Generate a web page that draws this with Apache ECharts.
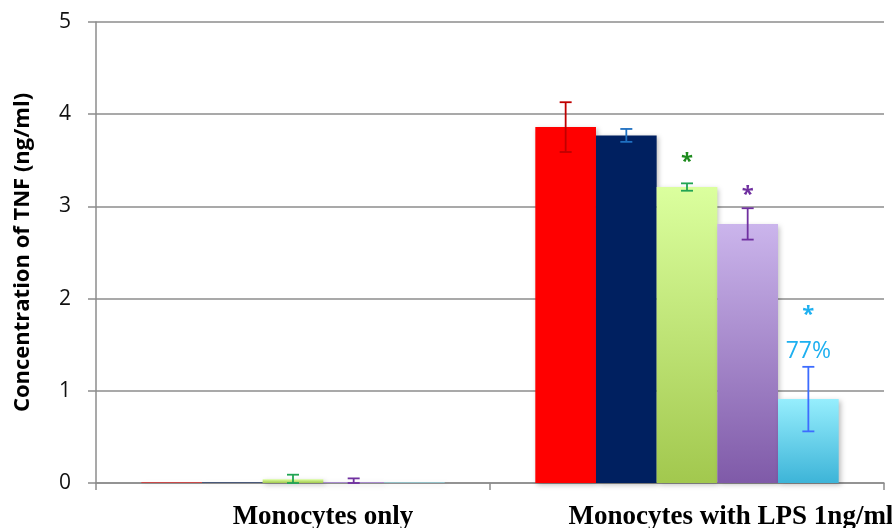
<!DOCTYPE html>
<html><head><meta charset="utf-8">
<script src="https://cdn.jsdelivr.net/npm/echarts@6/dist/echarts.min.js"></script>
<style>html,body{margin:0;padding:0;background:#fff}#c{width:892px;height:528px}</style>
</head><body><div id="c"></div>
<script>
const categories = ['Monocytes only', 'Monocytes with LPS 1ng/ml'];
const yTicks = [0, 1, 2, 3, 4, 5];
const seriesNames = ['A', 'B', 'C', 'D', 'E'];
const valuesA = [0.005, 3.86];
const valuesB = [0.005, 3.77];
const valuesC = [0.04, 3.21];
const valuesD = [0.01, 2.81];
const valuesE = [0.005, 0.91];
const errA = [0, 0.27];
const errB = [0, 0.07];
const errC = [0.05, 0.04];
const errD = [0.04, 0.17];
const errE = [0, 0.35];
// annotations: [category index, series index, value, text]
const annotations = [
  [1, 2, 3.48, '*'],
  [1, 3, 3.13, '*'],
  [1, 4, 1.82, '*'],
  [1, 4, 1.43, '77%']
];

const allValues = [valuesA, valuesB, valuesC, valuesD, valuesE];
const allErr = [errA, errB, errC, errD, errE];
const fills = [
  '#FF0000',
  '#002060',
  {type:'linear',x:0,y:0,x2:0,y2:1,colorStops:[{offset:0,color:'#DBFF9E'},{offset:1,color:'#A2C84E'}]},
  {type:'linear',x:0,y:0,x2:0,y2:1,colorStops:[{offset:0,color:'#CBB5EC'},{offset:1,color:'#7F5AA8'}]},
  {type:'linear',x:0,y:0,x2:0,y2:1,colorStops:[{offset:0,color:'#96EEFD'},{offset:1,color:'#3DB4D8'}]}
];
const errColors = ['#C00000', '#1F70C1', '#21A453', '#7030A0', '#3D6CFF'];
const annColors = ['#C00000', '#1F70C1', '#1E8B1E', '#7030A0', '#1EB0F0'];
const GAP = 0.23;
const N = seriesNames.length;

function offsetX(api, catIdx, sIdx) {
  const band = api.size([1, 0])[0];
  const bw = band * (1 - GAP) / N;
  const c = api.coord([catIdx, 0])[0];
  return c + (sIdx - (N - 1) / 2) * bw;
}

const series = [];
allValues.forEach((vals, i) => {
  series.push({
    name: seriesNames[i], type: 'bar', data: vals, barGap: '0%', barCategoryGap: (GAP*100)+'%',
    itemStyle: {color: fills[i], shadowColor: 'rgba(0,0,0,0.25)', shadowBlur: 5, shadowOffsetX: 2, shadowOffsetY: 2},
    z: 2
  });
});
allValues.forEach((vals, i) => {
  const data = vals.map((v, k) => [k, v, allErr[i][k]]).filter(d => d[2] > 0);
  series.push({
    type: 'custom', z: 5,
    data: data,
    renderItem: function (params, api) {
      const k = api.value(0), v = api.value(1), e = api.value(2);
      const x = offsetX(api, k, i);
      const yTop = api.coord([k, v + e])[1];
      const yBot = api.coord([k, Math.max(0, v - e)])[1];
      const w = 6;
      const st = {stroke: errColors[i], lineWidth: 1.8};
      return {type: 'group', children: [
        {type: 'line', shape: {x1: x, y1: yTop, x2: x, y2: yBot}, style: st},
        {type: 'line', shape: {x1: x - w, y1: yTop, x2: x + w, y2: yTop}, style: st},
        {type: 'line', shape: {x1: x - w, y1: yBot, x2: x + w, y2: yBot}, style: st}
      ]};
    }
  });
});
series.push({
  type: 'custom', z: 6,
  data: annotations,
  renderItem: function (params, api) {
    const a = annotations[params.dataIndex];
    const x = offsetX(api, a[0], a[1]);
    const y = api.coord([a[0], a[2]])[1];
    const isStar = a[3] === '*';
    return {type: 'text', style: {text: a[3], x: x, y: y, align: 'center', verticalAlign: 'middle',
      fill: annColors[a[1]], font: (isStar ? 'bold 22px' : '23px') + ' "Open Sans", sans-serif'}};
  }
});

const chart = echarts.init(document.getElementById('c'));
chart.setOption({
  animation: false,
  grid: {left: 96, right: 8, top: 22, bottom: 45, containLabel: false, outerBoundsMode: 'none'},
  xAxis: {
    type: 'category', data: categories,
    axisLine: {lineStyle: {color: '#8C8C8C', width: 1.5}},
    axisTick: {show: true, length: 7, lineStyle: {color: '#8C8C8C', width: 1.5}},
    axisLabel: {
      interval: 0, hideOverlap: false,
      margin: 21, color: '#000',
      fontFamily: '"Liberation Serif", serif', fontWeight: 'bold', fontSize: 27,
      formatter: function (v, idx) { return idx === 0 ? '{a|' + v + '}' : '{b|' + v + '}'; },
      rich: {
        a: {fontFamily: '"Liberation Serif", serif', fontWeight: 'bold', fontSize: 27, color: '#000', padding: [0, 0, 0, 60]},
        b: {fontFamily: '"Liberation Serif", serif', fontWeight: 'bold', fontSize: 27, color: '#000', padding: [0, 0, 0, 88]}
      }
    }
  },
  yAxis: {
    type: 'value', min: yTicks[0], max: yTicks[yTicks.length - 1], interval: 1,
    name: 'Concentration of TNF (ng/ml)', nameLocation: 'middle', nameGap: 62,
    nameTextStyle: {fontFamily: '"Open Sans", sans-serif', fontWeight: 'bold', fontSize: 22, color: '#000'},
    axisLine: {show: true, lineStyle: {color: '#8C8C8C', width: 1.5}},
    axisTick: {show: true, length: 8, lineStyle: {color: '#8C8C8C', width: 1.5}},
    splitLine: {lineStyle: {color: '#8C8C8C', width: 1.5}},
    axisLabel: {margin: 25, color: '#111', fontFamily: '"Open Sans", sans-serif', fontSize: 21}
  },
  series: series
});
</script></body></html>
